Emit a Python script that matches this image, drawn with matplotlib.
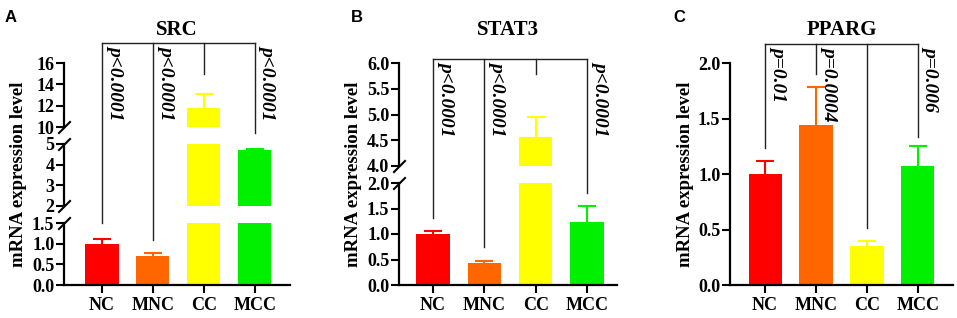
import matplotlib
matplotlib.use('Agg')
import matplotlib.pyplot as plt
from matplotlib.lines import Line2D

plt.rcParams['font.family'] = ['Liberation Serif', 'DejaVu Serif']
plt.rcParams['font.weight'] = 'bold'

# data
categories = ['NC', 'MNC', 'CC', 'MCC']
bar_colors = ['#FF0000', '#FF6600', '#FFFF00', '#00F000']

src_mean = [1.0, 0.70, 11.8, 4.70]
src_err = [0.12, 0.07, 1.30, 0.08]
stat3_mean = [1.0, 0.43, 4.56, 1.23]
stat3_err = [0.06, 0.05, 0.40, 0.31]
pparg_mean = [1.0, 1.44, 0.35, 1.07]
pparg_err = [0.12, 0.34, 0.05, 0.18]

# broken y axis ranges (bottom to top) and their ticks
src_ranges = [(0, 1.5), (2, 5), (10, 16)]
src_ticks = [[0, 0.5, 1.0, 1.5], [2, 3, 4, 5], [10, 12, 14, 16]]
src_fmt = ['%.1f', '%d', '%d']
stat3_ranges = [(0, 2.0), (4.0, 6.0)]
stat3_ticks = [[0, 0.5, 1.0, 1.5, 2.0], [4.0, 4.5, 5.0, 5.5, 6.0]]
stat3_fmt = ['%.1f', '%.1f']
pparg_ranges = [(0, 2.0)]
pparg_ticks = [[0, 0.5, 1.0, 1.5, 2.0]]
pparg_fmt = ['%.1f']

# comparison brackets: bracket top level and where each drop line ends
src_bracket_top = 17.9
src_drop = [1.5, 1.1, 15.0, 9.45]
src_p = ['p<0.0001', 'p<0.0001', None, 'p<0.0001']
stat3_bracket_top = 6.08
stat3_drop = [1.31, 0.75, 5.79, 1.80]
stat3_p = ['p<0.0001', 'p<0.0001', None, 'p<0.0001']
pparg_bracket_top = 2.17
pparg_drop = [1.23, 1.90, 0.51, 1.33]
pparg_p = ['p=0.01', 'p=0.0004', None, 'p=0.006']

W, H = 957, 318
fig = plt.figure(figsize=(W / 100, H / 100), dpi=100)


def px_axes(x0, x1, ybot, ytop):
    return fig.add_axes([x0 / W, 1 - ybot / H, (x1 - x0) / W, (ybot - ytop) / H])


def make_panel(title, x0, x1, seg_px, ranges, ticks, fmts, xpad,
               means, errs, top, drops, ptexts):
    axes = []
    x = list(range(len(categories)))
    for i, ((yb, yt), (lo, hi)) in enumerate(zip(seg_px, ranges)):
        ax = px_axes(x0, x1, yb, yt)
        ax.patch.set_alpha(0)
        for j in x:
            ax.bar(j, means[j], width=0.65, color=bar_colors[j], zorder=2)
            # symmetric bar, lower half hidden behind the column
            ax.errorbar(j, means[j], yerr=errs[j], fmt='none',
                        ecolor=bar_colors[j], elinewidth=1.5, capsize=6.5,
                        capthick=1.5, zorder=1)
        ax.set_ylim(lo, hi)
        ax.set_xlim(-xpad[0], len(x) - 1 + xpad[1])
        ax.set_yticks(ticks[i])
        ax.set_yticklabels([fmts[i] % t for t in ticks[i]])
        for s in ['top', 'right']:
            ax.spines[s].set_visible(False)
        ax.spines['left'].set_linewidth(1.6)
        ax.tick_params(axis='y', length=6, width=1.5, labelsize=13, pad=1)
        if i == 0:
            ax.spines['bottom'].set_linewidth(1.6)
            ax.set_xticks(x)
            ax.set_xticklabels(categories)
            ax.tick_params(axis='x', length=6, width=1.5, labelsize=13, pad=3)
        else:
            ax.spines['bottom'].set_visible(False)
            ax.set_xticks([])
        axes.append(ax)

    # break marks on the y axis
    for k in range(len(axes) - 1):
        for ax, yy in ((axes[k], 1), (axes[k + 1], 0)):
            ax.plot([0], [yy], transform=ax.transAxes, marker=[(-1, -1), (1, 1)],
                    markersize=9, mew=1.5, color='black', clip_on=False)

    def to_fig(xi, val):
        seg = len(axes) - 1
        for k, (lo, hi) in enumerate(ranges):
            if val <= hi:
                seg = k
                break
        xd = axes[0].transData.transform((xi, 0))[0]
        yd = axes[seg].transData.transform((0, val))[1]
        return xd / fig.bbox.width, yd / fig.bbox.height

    # brackets
    xl, yt = to_fig(0, top)
    xr, _ = to_fig(len(categories) - 1, top)
    fig.add_artist(Line2D([xl, xr], [yt, yt], transform=fig.transFigure,
                          color='#222222', lw=1.0))
    for j, d in enumerate(drops):
        xj, yb = to_fig(j, d)
        fig.add_artist(Line2D([xj, xj], [yt, yb], transform=fig.transFigure,
                              color='#222222', lw=1.0))
        if ptexts[j]:
            fig.text(xj + 5 / W, yt - 2 / H, ptexts[j], rotation=270,
                     ha='left', va='top', fontsize=14, fontstyle='italic',
                     fontweight='bold')

    # titles, labels
    fig.text((x0 + x1) / 2 / W, 1 - 30 / H, title, ha='center', va='center',
             fontsize=15, fontweight='bold')
    ytop = seg_px[-1][1]
    ybot = seg_px[0][0]
    fig.text((x0 - 45) / W, 1 - (ytop + ybot) / 2 / H, 'mRNA expression level',
             rotation=90, ha='center', va='center', fontsize=13.5,
             fontweight='bold')
    return axes


make_panel('SRC', 64, 290, [(285, 223), (206, 144), (127, 63)],
           src_ranges, src_ticks, src_fmt, (0.745, 0.69),
           src_mean, src_err, src_bracket_top, src_drop, src_p)
make_panel('STAT3', 399, 617, [(285, 183), (166, 63)],
           stat3_ranges, stat3_ticks, stat3_fmt, (0.66, 0.58),
           stat3_mean, stat3_err, stat3_bracket_top, stat3_drop, stat3_p)
make_panel('PPARG', 730, 953, [(285, 63)],
           pparg_ranges, pparg_ticks, pparg_fmt, (0.69, 0.69),
           pparg_mean, pparg_err, pparg_bracket_top, pparg_drop, pparg_p)

# panel letters
for lx, letter in [(11, 'A'), (357, 'B'), (679, 'C')]:
    fig.text(lx / W, 1 - 17 / H, letter, ha='center', va='center', fontsize=12,
             fontweight='bold', family=['Liberation Sans', 'DejaVu Sans'])

fig.savefig('out.png', dpi=100)
